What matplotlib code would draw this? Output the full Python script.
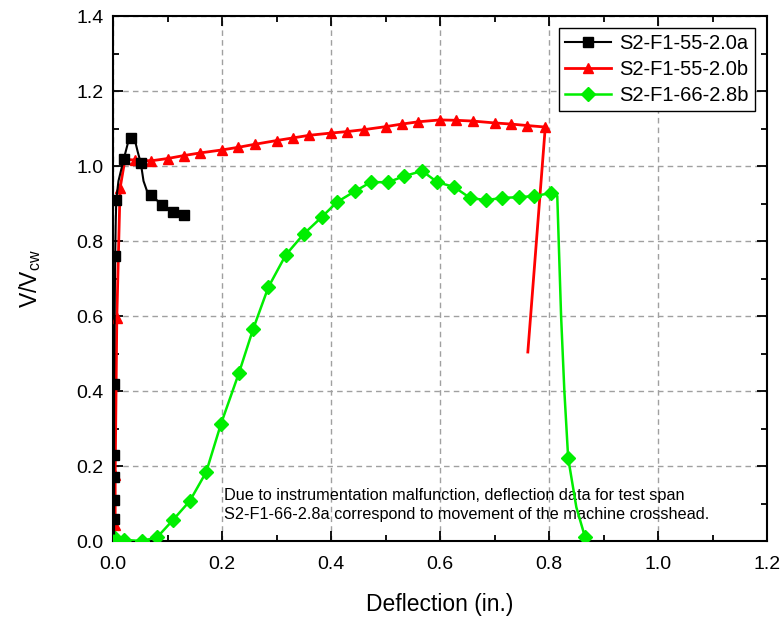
import matplotlib
matplotlib.use("Agg")
import matplotlib.pyplot as plt
from matplotlib.ticker import MultipleLocator

plt.rcParams['font.family'] = ['Liberation Sans', 'DejaVu Sans']

# S2-F1-55-2.0a (black squares)
a_x = [0.002, 0.002, 0.002, 0.002, 0.002, 0.002, 0.003, 0.004, 0.005, 0.006, 0.010, 0.020,
       0.028, 0.033, 0.040, 0.045, 0.051, 0.056, 0.062, 0.070, 0.090, 0.110, 0.130]
a_y = [0.02, 0.06, 0.11, 0.17, 0.23, 0.42, 0.60, 0.76, 0.85, 0.91, 0.96, 1.02,
       1.065, 1.075, 1.07, 1.04, 1.008, 0.96, 0.935, 0.923, 0.896, 0.878, 0.869]
a_marks = [1, 2, 3, 4, 5, 7, 9, 11, 13, 16, 19, 20, 21, 22]

# S2-F1-55-2.0b (red triangles)
b_x = [0.0, 0.004, 0.004, 0.007, 0.013, 0.022, 0.040, 0.070, 0.100, 0.130, 0.160, 0.200,
       0.230, 0.260, 0.300, 0.330, 0.360, 0.400, 0.430, 0.460, 0.500, 0.530, 0.560,
       0.600, 0.630, 0.660, 0.700, 0.730, 0.760, 0.793, 0.761]
b_y = [0.0, 0.043, 0.176, 0.595, 0.941, 1.018, 1.016, 1.014, 1.020, 1.028, 1.035, 1.043,
       1.050, 1.058, 1.068, 1.075, 1.082, 1.088, 1.092, 1.097, 1.105, 1.112, 1.118,
       1.123, 1.122, 1.120, 1.115, 1.112, 1.108, 1.104, 0.504]

# S2-F1-66-2.8b (green diamonds)
c_x = [0.0, 0.004, 0.020, 0.053, 0.081, 0.110, 0.141, 0.171, 0.198, 0.231, 0.257, 0.285,
       0.317, 0.350, 0.383, 0.411, 0.444, 0.473, 0.505, 0.534, 0.567, 0.595, 0.626,
       0.655, 0.684, 0.714, 0.745, 0.773, 0.804, 0.815, 0.822, 0.828, 0.835, 0.850, 0.866]
c_y = [0.0, 0.008, 0.003, 0.0, 0.010, 0.056, 0.107, 0.184, 0.312, 0.448, 0.565, 0.677,
       0.763, 0.819, 0.864, 0.904, 0.933, 0.957, 0.957, 0.973, 0.987, 0.957, 0.944,
       0.915, 0.909, 0.915, 0.917, 0.920, 0.928, 0.92, 0.60, 0.40, 0.221, 0.09, 0.01]
c_marks = [1, 2, 3, 4, 5, 6, 7, 8, 9, 10, 11, 12, 13, 14, 15, 16, 17, 18, 19, 20, 21,
           22, 23, 24, 25, 26, 27, 28, 32, 34]

note = ("Due to instrumentation malfunction, deflection data for test span\n"
        "S2-F1-66-2.8a correspond to movement of the machine crosshead.")

fig = plt.figure(figsize=(7.82, 6.2), dpi=100)
ax = fig.add_axes([0.1445, 0.1274, 0.8365, 0.8467])

ax.plot(a_x, a_y, color='black', lw=1.5, marker='s', ms=7, markevery=a_marks,
        label='S2-F1-55-2.0a', zorder=4)
ax.plot(b_x, b_y, color='red', lw=2, marker='^', ms=7.5, markevery=list(range(1, 30)),
        label='S2-F1-55-2.0b', zorder=3)
ax.plot(c_x, c_y, color='#00ee00', lw=1.8, marker='D', ms=7.5, markevery=c_marks,
        label='S2-F1-66-2.8b', zorder=3)

ax.text(0.204, 0.096, note, fontsize=11.7, va='center', ha='left', linespacing=1.35, zorder=2)

ax.set_xlim(0, 1.2)
ax.set_ylim(0, 1.4)
ax.xaxis.set_major_locator(MultipleLocator(0.2))
ax.xaxis.set_minor_locator(MultipleLocator(0.1))
ax.yaxis.set_major_locator(MultipleLocator(0.2))
ax.yaxis.set_minor_locator(MultipleLocator(0.1))
ax.tick_params(which='both', direction='in', top=True, right=True, labelsize=14, width=1.3)
ax.tick_params(which='major', length=7)
ax.tick_params(which='minor', length=4)
ax.tick_params(axis='x', pad=11)
ax.tick_params(axis='y', pad=7)
for s in ax.spines.values():
    s.set_linewidth(1.5)
ax.grid(True, which='major', color='#a0a0a0', ls=(0, (4, 3)), lw=1)
ax.set_axisbelow(True)

ax.set_xlabel('Deflection (in.)', fontsize=16.5, labelpad=14)
ax.set_ylabel('V/V$_{\\mathregular{cw}}$', fontsize=16.5, labelpad=24)

leg = ax.legend(loc='upper right', fontsize=14.5, fancybox=False, edgecolor='black',
                framealpha=1, borderaxespad=0.6, handlelength=2.3, labelspacing=0.35,
                borderpad=0.3, handletextpad=0.4)
leg.get_frame().set_linewidth(1)

fig.savefig('out.png', dpi=100)
